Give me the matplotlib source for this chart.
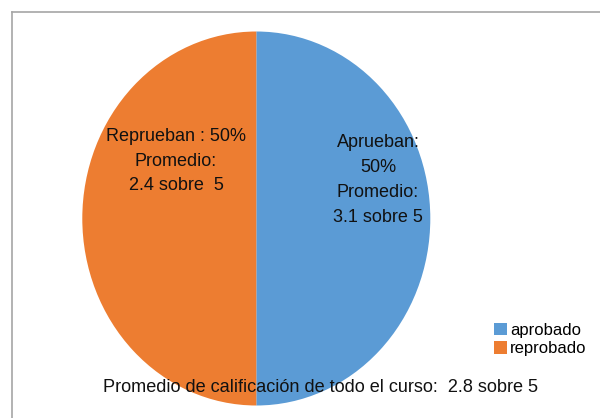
import matplotlib
matplotlib.use("Agg")
import matplotlib.pyplot as plt
from matplotlib.lines import Line2D

# data
labels = ["aprobado", "reprobado"]
shares = [50, 50]
colors = ["#5B9BD5", "#ED7D31"]
slice_texts = ["Aprueban:\n50%\nPromedio:\n3.1 sobre 5",
               "Reprueban : 50%\nPromedio:\n2.4 sobre  5"]
footer = "Promedio de calificación de todo el curso:  2.8 sobre 5"

plt.rcParams['font.family'] = ['Liberation Sans', 'DejaVu Sans']

W, H = 600, 418
fig = plt.figure(figsize=(W / 100, H / 100), dpi=100)
ax = fig.add_axes([0, 0, 1, 1])

# pie centre / radii in pixels (the original is slightly stretched vertically)
cx, cy = 256.3, 218.5
rx, ry = 174, 187

wedges, _ = ax.pie(shares, colors=colors, startangle=90, counterclock=False,
                   radius=1, wedgeprops=dict(linewidth=0))
ax.set_aspect('auto')
ax.set_xlim(-cx / rx, (W - cx) / rx)
ax.set_ylim(-(H - cy) / ry, cy / ry)
ax.axis('off')

def px(x, y):
    return (x - cx) / rx, (cy - y) / ry

txt_color = '#111111'
ax.text(*px(378, 180), slice_texts[0], ha='center', va='center',
        fontsize=13, linespacing=1.6, color=txt_color)
ax.text(*px(176, 161), slice_texts[1], ha='center', va='center',
        fontsize=13, linespacing=1.6, color=txt_color)

ax.text(*px(320.5, 387), footer, ha='center', va='center', fontsize=13.1,
        color=txt_color)

fig.legend(wedges, labels, loc='upper left', bbox_to_anchor=(494 / W, 1 - 323 / H),
           frameon=False, fontsize=12, handlelength=0.75, handleheight=0.75,
           handletextpad=0.2, labelspacing=0.2, borderpad=0, borderaxespad=0)

# outer frame (only the top and left edges are visible in the crop)
fig.add_artist(Line2D([12 / W, 12 / W], [0, 1 - 12 / H], transform=fig.transFigure,
                      color='#A6A6A6', lw=1.2))
fig.add_artist(Line2D([12 / W, 1], [1 - 12 / H, 1 - 12 / H], transform=fig.transFigure,
                      color='#A6A6A6', lw=1.2))

fig.savefig("out.png", dpi=100)
